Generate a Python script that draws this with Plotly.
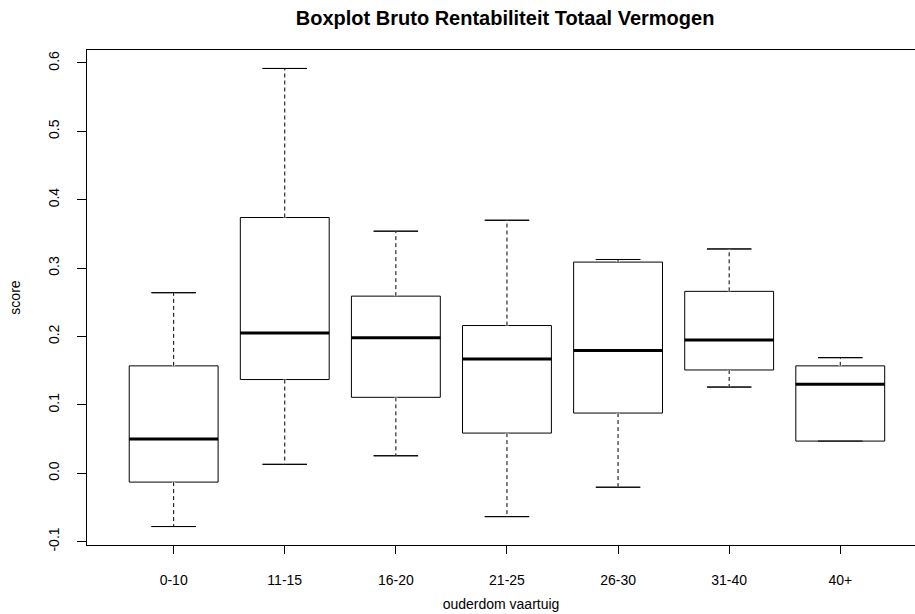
import plotly.graph_objects as go

categories = ["0-10", "11-15", "16-20", "21-25", "26-30", "31-40", "40+"]
lower_whisker = [-0.078, 0.013, 0.0255, -0.0635, -0.0205, 0.126, 0.047]
q1_values = [-0.013, 0.137, 0.111, 0.0587, 0.088, 0.151, 0.047]
median_values = [0.050, 0.205, 0.198, 0.167, 0.1796, 0.195, 0.130]
q3_values = [0.157, 0.374, 0.259, 0.216, 0.3088, 0.266, 0.157]
upper_whisker = [0.264, 0.592, 0.354, 0.370, 0.3126, 0.328, 0.169]
y_ticks = [-0.1, 0.0, 0.1, 0.2, 0.3, 0.4, 0.5, 0.6]
y_tick_labels = ["-0.1", "0.0", "0.1", "0.2", "0.3", "0.4", "0.5", "0.6"]

positions = list(range(1, len(categories) + 1))
BOX_W = 0.8
CAP_HALF = BOX_W * 0.5 / 2
FONT = "Liberation Sans, Arial, sans-serif"

fig = go.Figure()

fig.add_trace(go.Box(
    x=positions,
    q1=q1_values, median=median_values, q3=q3_values,
    lowerfence=lower_whisker, upperfence=upper_whisker,
    width=BOX_W, whiskerwidth=0.5,
    fillcolor="white",
    line=dict(color="black", width=1),
    boxpoints=False, showlegend=False,
))

# whisker overlays: white cover then dashed black
wx, wy = [], []
for p, lo, a, b, hi in zip(positions, lower_whisker, q1_values, q3_values, upper_whisker):
    wx += [p, p, None, p, p, None]
    wy += [b, hi, None, a, lo, None]
fig.add_trace(go.Scatter(x=wx, y=wy, mode="lines", line=dict(color="white", width=3),
                         hoverinfo="skip", showlegend=False))
fig.add_trace(go.Scatter(x=wx, y=wy, mode="lines",
                         line=dict(color="black", width=1, dash="4px,3px"),
                         hoverinfo="skip", showlegend=False))

# caps
cx, cy = [], []
for p, lo, hi, a in zip(positions, lower_whisker, upper_whisker, q1_values):
    cx += [p - CAP_HALF, p + CAP_HALF, None]
    cy += [hi, hi, None]
    if lo < a:
        cx += [p - CAP_HALF, p + CAP_HALF, None]
        cy += [lo, lo, None]
fig.add_trace(go.Scatter(x=cx, y=cy, mode="lines", line=dict(color="black", width=1),
                         hoverinfo="skip", showlegend=False))

# thick medians
mx, my = [], []
for p, m in zip(positions, median_values):
    mx += [p - BOX_W / 2, p + BOX_W / 2, None]
    my += [m, m, None]
fig.add_trace(go.Scatter(x=mx, y=my, mode="lines", line=dict(color="black", width=3),
                         hoverinfo="skip", showlegend=False))

fig.update_layout(
    width=915, height=614,
    margin=dict(l=87, r=0, t=50, b=69),
    paper_bgcolor="white", plot_bgcolor="white",
    font=dict(family=FONT, color="black", size=14),
    title=dict(text="<b>Boxplot Bruto Rentabiliteit Totaal Vermogen</b>",
               x=0.552, xanchor="center", y=0.97, yanchor="middle",
               font=dict(size=20, family=FONT)),
    showlegend=False,
)
fig.update_xaxes(
    range=[0.22, 0.22 + 828 / 111.1],
    tickmode="array", tickvals=positions, ticktext=categories,
    showgrid=False, zeroline=False,
    showline=True, mirror=True, linecolor="black", linewidth=1,
    ticks="outside", ticklen=8, tickcolor="black",
    ticklabelstandoff=14,
    tickfont=dict(size=14),
    title=dict(text="ouderdom vaartuig", font=dict(size=14), standoff=12),
)
fig.update_yaxes(
    range=[-0.105, 0.619],
    tickmode="array", tickvals=y_ticks, ticktext=y_tick_labels,
    tickangle=-90,
    showgrid=False, zeroline=False,
    showline=True, linecolor="black", linewidth=1,
    ticks="outside", ticklen=9, tickcolor="black",
    ticklabelstandoff=12,
    tickfont=dict(size=14),
    title=dict(text="score", font=dict(size=14), standoff=22),
)

fig.write_html(
    "out.html",
    config={"displayModeBar": False, "staticPlot": True},
    post_script="document.body.style.margin='0';document.body.style.overflow='hidden';",
)
